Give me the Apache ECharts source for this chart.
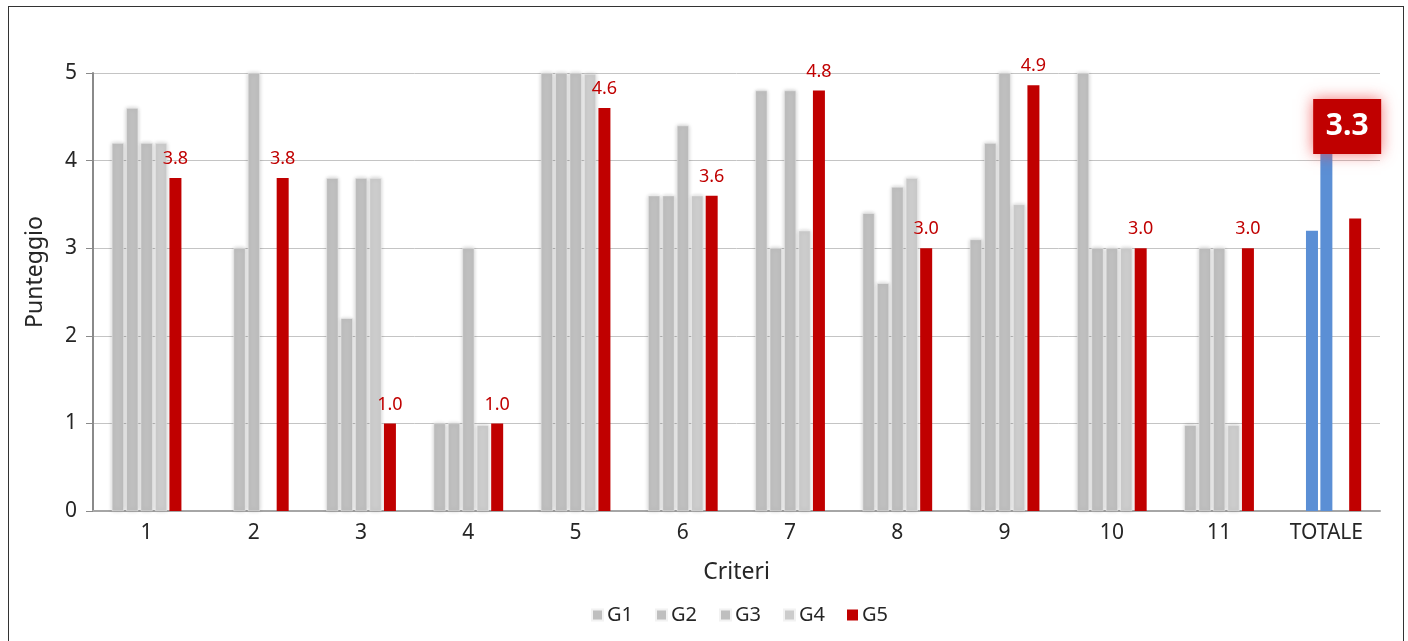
<!DOCTYPE html>
<html>
<head>
<meta charset="utf-8">
<script src="https://cdn.jsdelivr.net/npm/echarts@6/dist/echarts.min.js"></script>
<style>
  html, body { margin: 0; padding: 0; background: #ffffff; }
  #frame { position: absolute; left: 8px; top: 6px; width: 1396px; height: 660px; border: 1px solid #333333; box-sizing: border-box; }
  #chart { position: absolute; left: 0; top: 0; width: 1408px; height: 641px; }
</style>
</head>
<body>
<div id="frame"></div>
<div id="chart"></div>
<script>
// Criteria and scores per group
const categories = ['1', '2', '3', '4', '5', '6', '7', '8', '9', '10', '11', 'TOTALE'];
const g1 = [4.2, null, 3.8, 1.0, 5.0, 3.6, 4.8, 3.4, 3.1, 5.0, 0.98, null];
const g2 = [4.6, 3.0, 2.2, 1.0, 5.0, 3.6, 3.0, 2.6, 4.2, 3.0, 3.0, 3.2];
const g3 = [4.2, 5.0, 3.8, 3.0, 5.0, 4.4, 4.8, 3.7, 5.0, 3.0, 3.0, 4.3];
const g4 = [4.2, null, 3.8, 0.98, 4.99, 3.6, 3.2, 3.8, 3.5, 3.0, 0.98, null];
const g5 = [3.8, 3.8, 1.0, 1.0, 4.6, 3.6, 4.8, 3.0, 4.86, 3.0, 3.0, 3.34];
const yTicks = [0, 1, 2, 3, 4, 5];

const FONT = 'Noto Sans';
const TOTAL_INDEX = categories.length - 1;
const GREY = '#bfbfbf';
const GREY_LIGHT = '#cccccc';
const BLUE = '#5b8fd5';
const RED = '#c00000';
const TEXT = '#262626';

function greyData(values, totalColor) {
  return values.map((v, i) => {
    if (i === TOTAL_INDEX && totalColor) {
      return { value: v, itemStyle: { color: totalColor, shadowBlur: 0, borderWidth: 0 } };
    }
    return v;
  });
}

const barCommon = {
  type: 'bar',
  barWidth: 12,
  barGap: '20%',
  barCategoryGap: '30%'
};

const greyStyle = (c) => ({
  color: c,
  borderColor: '#f2f2f2',
  borderWidth: 0.5,
  shadowBlur: 4,
  shadowColor: 'rgba(0,0,0,0.22)',
  shadowOffsetX: 0,
  shadowOffsetY: 0
});

// the overall score gets a highlighted badge instead of a plain label
const g5Data = g5.map((v, i) => {
  if (i === TOTAL_INDEX) {
    return {
      value: v,
      label: {
        show: true,
        position: [-2, -92],
        color: '#ffffff',
        fontSize: 30,
        fontWeight: 'bold',
        fontFamily: FONT,
        backgroundColor: RED,
        padding: [6, 10, 6, 10],
        width: 48,
        height: 43,
        align: 'center',
        verticalAlign: 'middle',
        lineHeight: 43,
        shadowBlur: 14,
        shadowColor: 'rgba(240,70,70,0.75)'
      }
    };
  }
  return v;
});

const chart = echarts.init(document.getElementById('chart'), null, { renderer: 'canvas' });

chart.setOption({
  backgroundColor: 'transparent',
  animation: false,
  textStyle: { fontFamily: FONT },
  grid: { left: 93, right: 28, top: 73, bottom: 130, containLabel: false },
  legend: {
    bottom: 11,
    left: 586,
    itemWidth: 11,
    itemHeight: 11,
    itemGap: 22,
    icon: 'rect',
    textStyle: { fontSize: 20, color: TEXT, fontFamily: FONT, padding: [0, 0, 0, -1] },
    data: ['G1', 'G2', 'G3', 'G4', 'G5']
  },
  xAxis: {
    type: 'category',
    data: categories,
    name: 'Criteri',
    nameLocation: 'middle',
    nameGap: 50,
    nameTextStyle: { fontSize: 23, color: TEXT, fontFamily: FONT },
    axisLine: { lineStyle: { color: '#a6a6a6', width: 2 } },
    axisTick: { show: false },
    axisLabel: { fontSize: 21, color: TEXT, margin: 12, fontFamily: FONT }
  },
  yAxis: {
    type: 'value',
    min: yTicks[0],
    max: yTicks[yTicks.length - 1],
    interval: 1,
    name: 'Punteggio',
    nameLocation: 'middle',
    nameGap: 46,
    nameTextStyle: { fontSize: 23, color: TEXT, fontFamily: FONT, padding: [0, 0, 0, 40] },
    axisLine: { show: true, lineStyle: { color: '#8a8a8a', width: 2 } },
    axisTick: { show: true, length: 7, lineStyle: { color: '#8a8a8a', width: 1 } },
    axisLabel: { fontSize: 21, color: TEXT, margin: 16, fontFamily: FONT },
    splitLine: { lineStyle: { color: '#c4c4c4', width: 1 } }
  },
  series: [
    Object.assign({}, barCommon, {
      name: 'G1',
      itemStyle: greyStyle(GREY),
      data: greyData(g1, BLUE)
    }),
    Object.assign({}, barCommon, {
      name: 'G2',
      itemStyle: greyStyle(GREY),
      data: greyData(g2, BLUE)
    }),
    Object.assign({}, barCommon, {
      name: 'G3',
      itemStyle: greyStyle(GREY),
      data: greyData(g3, BLUE)
    }),
    Object.assign({}, barCommon, {
      name: 'G4',
      itemStyle: greyStyle(GREY_LIGHT),
      data: greyData(g4)
    }),
    Object.assign({}, barCommon, {
      name: 'G5',
      itemStyle: { color: RED },
      label: {
        show: true,
        position: 'top',
        distance: 10,
        color: RED,
        fontSize: 18,
        fontFamily: FONT,
        formatter: (p) => p.value.toFixed(1)
      },
      labelLayout: { hideOverlap: false },
      data: g5Data
    })
  ]
});
</script>
</body>
</html>
